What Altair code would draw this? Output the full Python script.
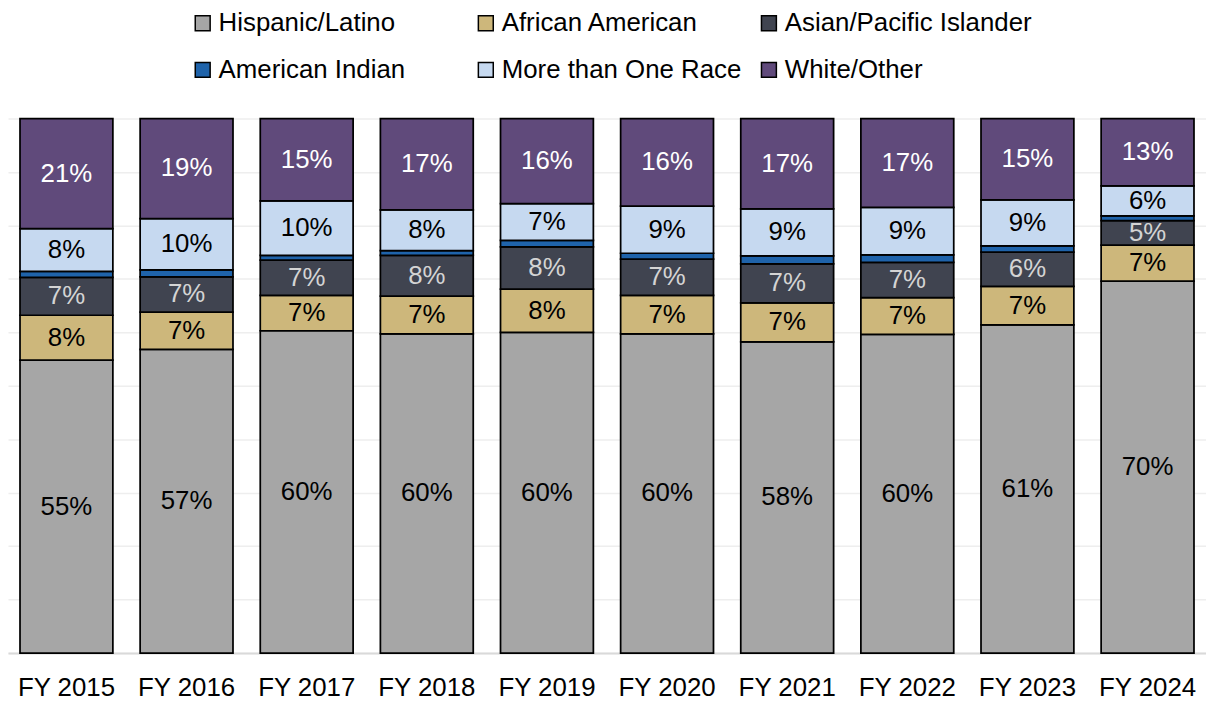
import altair as alt
import pandas as pd

FONT = "Liberation Sans"

years = ["FY 2015", "FY 2016", "FY 2017", "FY 2018", "FY 2019",
         "FY 2020", "FY 2021", "FY 2022", "FY 2023", "FY 2024"]
groups = ["Hispanic/Latino", "African American", "Asian/Pacific Islander",
          "American Indian", "More than One Race", "White/Other"]
colors = ["#a6a6a6", "#cdb77b", "#404450", "#1f63aa", "#c6d9f0", "#604a7b"]
label_colors = ["black", "black", "#d4d4d4", "black", "black", "white"]

hispanic = [54.8, 56.8, 60.3, 59.7, 60.0, 59.7, 58.2, 59.6, 61.4, 69.6]
african_american = [8.4, 7.0, 6.6, 7.1, 8.1, 7.2, 7.3, 6.9, 7.2, 6.7]
asian_pacific = [7.1, 6.6, 6.6, 7.6, 7.9, 6.8, 7.3, 6.6, 6.4, 4.6]
american_indian = [1.1, 1.3, 0.9, 0.9, 1.2, 1.1, 1.5, 1.4, 1.2, 0.9]
more_than_one = [8.0, 9.6, 10.2, 7.6, 6.9, 8.8, 8.8, 8.9, 8.6, 5.6]
white_other = [20.6, 18.7, 15.4, 17.1, 15.9, 16.4, 16.9, 16.6, 15.2, 12.6]

series = [hispanic, african_american, asian_pacific, american_indian, more_than_one, white_other]

rows = []
for i, yr in enumerate(years):
    cum = 0.0
    for g, name in enumerate(groups):
        v = series[g][i]
        y0, y1 = cum, cum + v
        cum = y1
        label = "" if name == "American Indian" else f"{round(v)}%"
        rows.append({"year": yr, "group": name, "value": v, "y0": y0, "y1": y1,
                     "mid": (y0 + y1) / 2, "label": label, "tcolor": label_colors[g],
                     "ord": g})
df = pd.DataFrame(rows)

base = alt.Chart(df)

x_enc = alt.X(
    "year:N", sort=years, title=None,
    scale=alt.Scale(paddingInner=0.227, paddingOuter=0.1),
    axis=alt.Axis(labelFontSize=26, labelFont=FONT, labelColor="black",
                  labelPadding=43, labelBaseline="alphabetic", ticks=False,
                  tickSize=0, domainColor="#d9d9d9", domainWidth=2,
                  labelAngle=0, grid=False),
)

bars = base.mark_bar(stroke="black", strokeWidth=1.75).encode(
    x=x_enc,
    y=alt.Y("y0:Q", scale=alt.Scale(domain=[0, 100], nice=False),
            axis=alt.Axis(values=list(range(0, 101, 10)), labels=False,
                          ticks=False, domain=False, grid=True,
                          gridColor="#eeeeee", gridWidth=1.5, title=None)),
    y2="y1:Q",
    color=alt.Color(
        "group:N", sort=groups,
        scale=alt.Scale(domain=groups, range=colors),
        legend=alt.Legend(
            title=None, orient="none", legendX=183, legendY=-109, columns=3,
            direction="horizontal", symbolType="square", symbolSize=225,
            symbolStrokeColor="black", symbolStrokeWidth=1.5,
            labelFontSize=26, labelFont=FONT, labelColor="black",
            labelOffset=3, columnPadding=7, rowPadding=21, gridAlign="all",
            labelLimit=400, symbolOpacity=1,
        ),
    ),
)

text = base.transform_filter("datum.label != ''").mark_text(
    fontSize=26, font=FONT, baseline="middle", align="center"
).encode(
    x=alt.X("year:N", sort=years),
    y=alt.Y("mid:Q"),
    text="label:N",
    color=alt.Color("tcolor:N", scale=None),
)

chart = alt.layer(bars, text).resolve_scale(color="independent").properties(
    width=1206, height=538,
    autosize=alt.AutoSizeParams(type="none"),
    padding={"top": 109, "bottom": 47, "left": 0, "right": 0},
).configure_view(stroke=None)

chart.save("out.html", embed_options={"renderer": "svg", "actions": False})
